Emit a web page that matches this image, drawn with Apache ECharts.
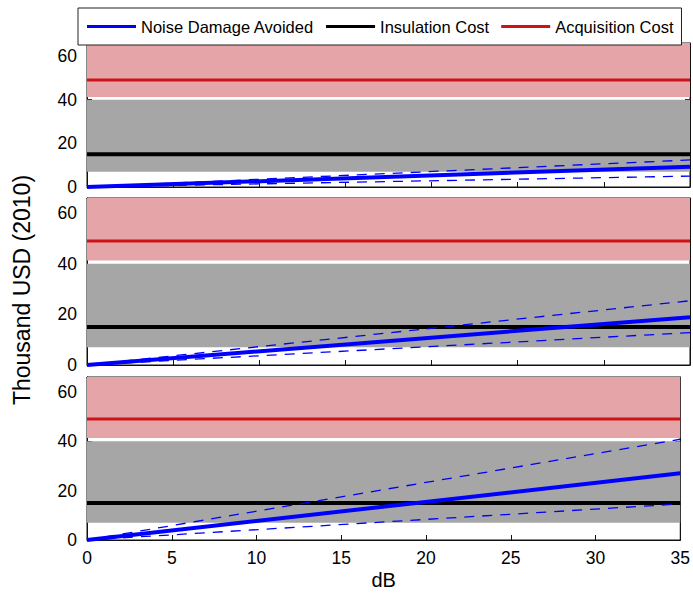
<!DOCTYPE html>
<html>
<head>
<meta charset="utf-8">
<title>Noise Damage Avoided vs Costs</title>
<script src="https://cdn.jsdelivr.net/npm/echarts@6/dist/echarts.min.js"></script>
<style>
html, body { margin: 0; padding: 0; background: #fff; }
#chart { width: 693px; height: 609px; }
</style>
</head>
<body>
<div id="chart"></div>
<script>
// x range of the three panels (dB)
var dbEnds = [0, 35];
// noise damage avoided at 0 and 35 dB, one row per panel
var avoidedMid = [[0, 9.3], [0, 18.9], [0, 27.0]];
var avoidedHigh = [[0, 12.4], [0, 25.4], [0, 40.8]];
var avoidedLow = [[0, 5.0], [0, 12.8], [0, 14.6]];
// cost levels and their ranges (thousand USD)
var insulationCost = 15;
var acquisitionCost = 49;
var insulationRange = [7, 40];
var acquisitionRange = [41.3, 66];
var yMax = 66;
var xTickStep = 5;
var yTickStep = 20;

// layout of the panels (pixels)
var panelTops = [43, 198, 377];
var panelHeights = [144, 167, 163];

var FONT = '"Liberation Sans", Arial, sans-serif';
var BLUE = '#0000ff', RED = '#cc1418', PINK = '#e5a5a8', GRAY = '#a6a6a6';

function pairs(ys) {
    return dbEnds.map(function (x, k) { return [x, ys[k]]; });
}

var grids = [], xAxes = [], yAxes = [], series = [];

for (var i = 0; i < 3; i++) {
    grids.push({ left: 87, right: 3, top: panelTops[i], height: panelHeights[i],
        show: true, borderColor: '#111', borderWidth: 1, backgroundColor: 'transparent' });

    var isLast = i === 2;
    ['bottom', 'top'].forEach(function (pos) {
        xAxes.push({
            gridIndex: i, type: 'value', position: pos, min: dbEnds[0], max: dbEnds[1], interval: xTickStep,
            axisLine: { show: true, onZero: false, lineStyle: { color: '#111' } },
            axisTick: { show: true, inside: true, length: 5, lineStyle: { color: '#111' } },
            axisLabel: { show: isLast && pos === 'bottom', color: '#000', fontSize: 17.5, fontFamily: FONT, margin: 9 },
            splitLine: { show: false },
            name: isLast && pos === 'bottom' ? 'dB' : '',
            nameLocation: 'middle', nameGap: 30,
            nameTextStyle: { color: '#000', fontSize: 20, fontFamily: FONT }
        });
    });
    ['left', 'right'].forEach(function (pos) {
        yAxes.push({
            gridIndex: i, type: 'value', position: pos, min: 0, max: yMax, interval: yTickStep,
            axisLine: { show: true, onZero: false, lineStyle: { color: '#111' } },
            axisTick: { show: true, inside: true, length: 5, lineStyle: { color: '#111' } },
            axisLabel: { show: pos === 'left', showMaxLabel: false, color: '#000', fontSize: 17.5, fontFamily: FONT, margin: 10,
                formatter: function (v) { return v % yTickStep === 0 ? String(v) : ''; } },
            splitLine: { show: false }
        });
    });

    var xi = 2 * i, yi = 2 * i;
    series.push({
        name: 'Acquisition Cost', type: 'line', xAxisIndex: xi, yAxisIndex: yi,
        data: pairs([acquisitionCost, acquisitionCost]), symbol: 'none',
        lineStyle: { color: RED, width: 3 }, itemStyle: { color: RED }, z: 3,
        markArea: {
            silent: true,
            data: [
                [{ yAxis: acquisitionRange[0], itemStyle: { color: PINK } }, { yAxis: acquisitionRange[1] }],
                [{ yAxis: insulationRange[0], itemStyle: { color: GRAY } }, { yAxis: insulationRange[1] }]
            ]
        }
    });
    series.push({
        name: 'Insulation Cost', type: 'line', xAxisIndex: xi, yAxisIndex: yi,
        data: pairs([insulationCost, insulationCost]), symbol: 'none',
        lineStyle: { color: '#000', width: 4 }, itemStyle: { color: '#000' }, z: 3
    });
    [avoidedHigh[i], avoidedLow[i]].forEach(function (ys) {
        series.push({
            name: 'Range', type: 'line', xAxisIndex: xi, yAxisIndex: yi,
            data: pairs(ys), symbol: 'none',
            lineStyle: { color: BLUE, width: 1.3, type: [10, 8] }, z: 4
        });
    });
    series.push({
        name: 'Noise Damage Avoided', type: 'line', xAxisIndex: xi, yAxisIndex: yi,
        data: pairs(avoidedMid[i]), symbol: 'none',
        lineStyle: { color: BLUE, width: 4 }, itemStyle: { color: BLUE }, z: 5
    });
}

var chart = echarts.init(document.getElementById('chart'), null, { renderer: 'svg' });
chart.setOption({
    animation: false,
    backgroundColor: '#fff',
    legend: {
        data: ['Noise Damage Avoided', 'Insulation Cost', 'Acquisition Cost'],
        left: 78, top: 8, icon: 'rect', itemWidth: 49, itemHeight: 3, itemGap: 12,
        padding: [10, 8, 10, 9], borderColor: '#222', borderWidth: 1, backgroundColor: '#fff',
        textStyle: { color: '#000', fontSize: 16.5, fontFamily: FONT }, z: 10
    },
    graphic: [{
        type: 'text', x: 22, y: 290, rotation: Math.PI / 2,
        style: { text: 'Thousand USD (2010)', fill: '#000', font: '23px ' + FONT,
            textAlign: 'center', textVerticalAlign: 'middle' }
    }],
    grid: grids,
    xAxis: xAxes,
    yAxis: yAxes,
    series: series
});
</script>
</body>
</html>
